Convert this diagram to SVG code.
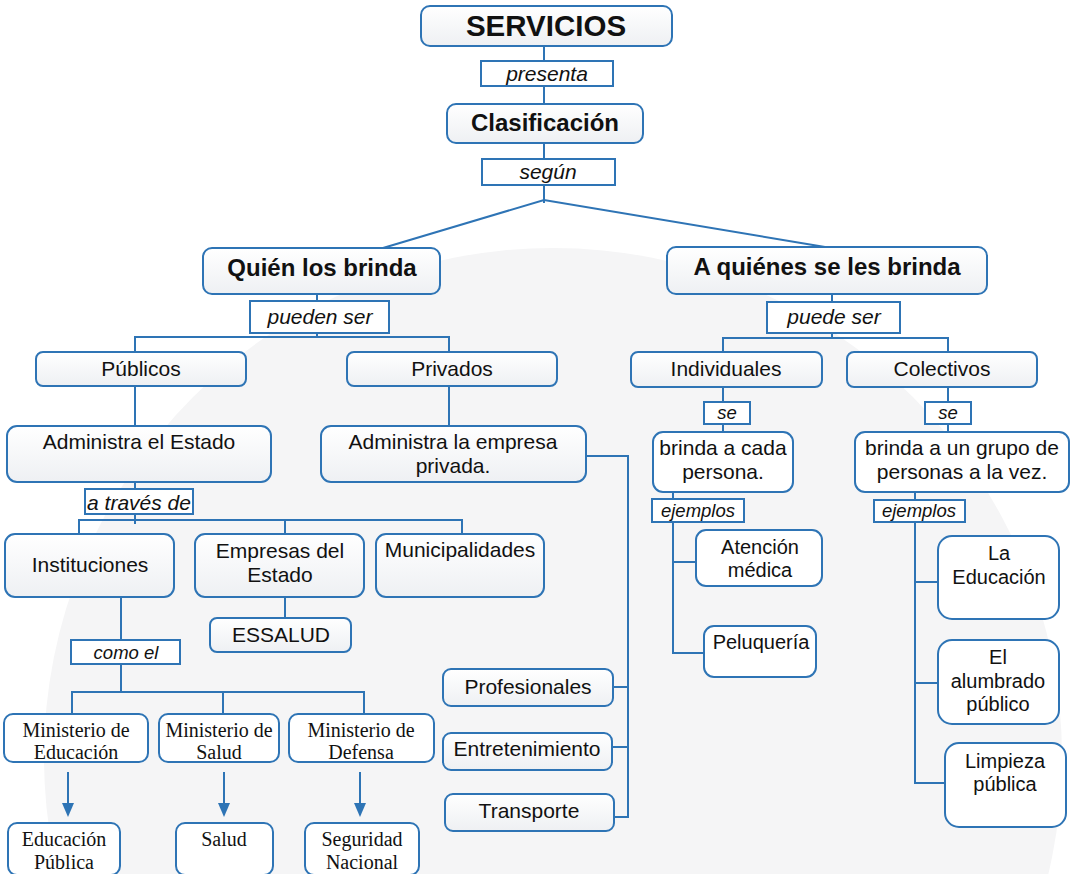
<svg xmlns="http://www.w3.org/2000/svg" width="1077" height="874" viewBox="0 0 1077 874">
<defs>
<linearGradient id="g" x1="0" y1="0" x2="0" y2="1">
<stop offset="0" stop-color="#ffffff"/>
<stop offset="1" stop-color="#eef0f3"/>
</linearGradient>
<marker id="arr" viewBox="0 0 14 12" refX="1" refY="6" markerWidth="14" markerHeight="12" markerUnits="userSpaceOnUse" orient="auto">
<path d="M0,0 L14,6 L0,12 Z" fill="#2e74b5"/>
</marker>
<style>
.n{fill:url(#g);stroke:#2e74b5;stroke-width:2}
.w{fill:#ffffff;stroke:#2e74b5;stroke-width:2}
.l{fill:#ffffff;stroke:#2e74b5;stroke-width:2}
.t{font-family:"Liberation Sans",Arial,sans-serif;font-size:21px;fill:#111;text-anchor:middle}
.m{font-family:"Liberation Sans",Arial,sans-serif;font-size:20px;fill:#111;text-anchor:middle}
.b{font-family:"Liberation Sans",Arial,sans-serif;font-weight:bold;font-size:24px;fill:#111;text-anchor:middle}
.i{font-family:"Liberation Sans",Arial,sans-serif;font-style:italic;font-size:21px;fill:#111;text-anchor:middle}
.s{font-family:"Liberation Sans",Arial,sans-serif;font-style:italic;font-size:18.5px;fill:#111;text-anchor:middle}
.r{font-family:"Liberation Serif","Times New Roman",serif;font-size:20px;fill:#111;text-anchor:middle}
.c{fill:none;stroke:#2e74b5;stroke-width:2}
</style>
</defs>
<rect width="1077" height="874" fill="#ffffff"/>
<circle cx="553" cy="757" r="509" fill="#f5f5f6"/>

<g id="connectors" class="c">
<path d="M544,46V61M544,86V104M544,143V159M544,185V203"/>
<path d="M383,248L544,200L825,247"/>
<path d="M317,294V301M317,333V337M135,352V337H449V352"/>
<path d="M135,386V426M449,386V425"/>
<path d="M135,482V489M135,514V524M79,534V520H462V534M285,520V534"/>
<path d="M121,597V640M121,664V692M72,714V692H364V714M223,692V714"/>
<path d="M285,597V618"/>
<path d="M586,456H628V817H614M613,687H628M612,747H628"/>
<path d="M832,294V302M832,333V338M723,352V338H948V352"/>
<path d="M723,387V402M723,424V432M948,387V402M948,424V432"/>
<path d="M673,492V499M673,522V653H704M673,562H696"/>
<path d="M915,492V500M915,522V783H945M915,582H938M915,683H938"/>
<path d="M68,772V804" marker-end="url(#arr)"/>
<path d="M224,772V804" marker-end="url(#arr)"/>
<path d="M360,772V804" marker-end="url(#arr)"/>
</g>

<g id="servicios"><rect class="n" x="421" y="6" width="251" height="40" rx="9"/><text class="b" x="546" y="36" style="font-size:29.5px">SERVICIOS</text></g>
<g id="presenta"><rect class="l" x="481" y="61" width="132" height="25"/><text class="i" x="547" y="81">presenta</text></g>
<g id="clasificacion"><rect class="n" x="447" y="104" width="196" height="39" rx="9"/><text class="b" x="545" y="131">Clasificación</text></g>
<g id="segun"><rect class="l" x="482" y="159" width="133" height="26"/><text class="i" x="548" y="179">según</text></g>

<g id="quien"><rect class="n" x="203" y="248" width="237" height="46" rx="9"/><text class="b" x="322" y="276">Quién los brinda</text></g>
<g id="pueden-ser"><rect class="l" x="250" y="301" width="139" height="32"/><text class="i" x="320" y="324">pueden ser</text></g>
<g id="a-quienes"><rect class="n" x="667" y="247" width="320" height="47" rx="9"/><text class="b" x="827" y="275">A quiénes se les brinda</text></g>
<g id="puede-ser"><rect class="l" x="767" y="302" width="133" height="31"/><text class="i" x="834" y="324">puede ser</text></g>

<g id="publicos"><rect class="n" x="36" y="352" width="210" height="34" rx="7"/><text class="t" x="141" y="376">Públicos</text></g>
<g id="privados"><rect class="n" x="347" y="352" width="210" height="34" rx="7"/><text class="t" x="452" y="376">Privados</text></g>
<g id="individuales"><rect class="n" x="631" y="352" width="191" height="35" rx="7"/><text class="t" x="726" y="376">Individuales</text></g>
<g id="colectivos"><rect class="n" x="847" y="352" width="190" height="35" rx="7"/><text class="t" x="942" y="376">Colectivos</text></g>

<g id="admin-estado"><rect class="n" x="7" y="426" width="264" height="56" rx="10"/><text class="t" x="139" y="449">Administra el Estado</text></g>
<g id="admin-empresa"><rect class="n" x="321" y="426" width="265" height="56" rx="10"/><text class="t" x="453" y="449">Administra la empresa</text><text class="t" x="453" y="473">privada.</text></g>
<g id="a-traves"><rect class="l" x="85" y="489" width="108" height="25"/><text class="i" x="139" y="510">a través de</text></g>

<g id="se-ind"><rect class="l" x="704" y="402" width="46" height="22"/><text class="s" x="727" y="419">se</text></g>
<g id="se-col"><rect class="l" x="925" y="402" width="46" height="22"/><text class="s" x="948" y="419">se</text></g>
<g id="brinda-cada"><rect class="w" x="653" y="432" width="140" height="60" rx="10"/><text class="t" x="723" y="455">brinda a cada</text><text class="t" x="723" y="479">persona.</text></g>
<g id="brinda-grupo"><rect class="w" x="855" y="432" width="214" height="60" rx="10"/><text class="t" x="962" y="455">brinda a un grupo de</text><text class="t" x="962" y="479">personas a la vez.</text></g>
<g id="ejemplos-ind"><rect class="l" x="652" y="499" width="92" height="23"/><text class="s" x="698" y="517">ejemplos</text></g>
<g id="ejemplos-col"><rect class="l" x="874" y="500" width="91" height="22"/><text class="s" x="919" y="517">ejemplos</text></g>

<g id="instituciones"><rect class="n" x="5" y="534" width="169" height="63" rx="10"/><text class="t" x="90" y="572">Instituciones</text></g>
<g id="empresas"><rect class="n" x="195" y="534" width="169" height="63" rx="10"/><text class="t" x="280" y="558">Empresas del</text><text class="t" x="280" y="582">Estado</text></g>
<g id="municipalidades"><rect class="n" x="376" y="534" width="168" height="63" rx="10"/><text class="t" x="460" y="557">Municipalidades</text></g>
<g id="essalud"><rect class="n" x="210" y="618" width="141" height="34" rx="7"/><text class="t" x="281" y="642">ESSALUD</text></g>
<g id="como-el"><rect class="l" x="71" y="640" width="109" height="24"/><text class="s" x="126" y="659">como el</text></g>

<g id="atencion"><rect class="w" x="696" y="530" width="126" height="56" rx="10"/><text class="m" x="760" y="554">Atención</text><text class="m" x="760" y="577">médica</text></g>
<g id="peluqueria"><rect class="w" x="704" y="626" width="112" height="51" rx="10"/><text class="m" x="761" y="649">Peluquería</text></g>
<g id="la-educacion"><rect class="w" x="938" y="536" width="121" height="83" rx="14"/><text class="m" x="999" y="560">La</text><text class="m" x="999" y="584">Educación</text></g>
<g id="alumbrado"><rect class="w" x="938" y="640" width="121" height="84" rx="14"/><text class="m" x="998" y="664">El</text><text class="m" x="998" y="688">alumbrado</text><text class="m" x="998" y="711">público</text></g>
<g id="limpieza"><rect class="w" x="945" y="743" width="121" height="84" rx="14"/><text class="m" x="1005" y="768">Limpieza</text><text class="m" x="1005" y="791">pública</text></g>

<g id="profesionales"><rect class="n" x="443" y="669" width="170" height="37" rx="8"/><text class="t" x="528" y="694">Profesionales</text></g>
<g id="entretenimiento"><rect class="n" x="443" y="733" width="169" height="37" rx="8"/><text class="t" x="527" y="756">Entretenimiento</text></g>
<g id="transporte"><rect class="n" x="445" y="794" width="169" height="37" rx="8"/><text class="t" x="529" y="818">Transporte</text></g>

<g id="min-educacion"><rect class="w" x="4" y="714" width="144" height="48" rx="9"/><text class="r" x="76" y="737">Ministerio de</text><text class="r" x="76" y="759">Educación</text></g>
<g id="min-salud"><rect class="w" x="159" y="714" width="120" height="48" rx="9"/><text class="r" x="219" y="737">Ministerio de</text><text class="r" x="219" y="759">Salud</text></g>
<g id="min-defensa"><rect class="w" x="289" y="714" width="145" height="48" rx="9"/><text class="r" x="361" y="737">Ministerio de</text><text class="r" x="361" y="759">Defensa</text></g>
<g id="educacion-publica"><rect class="w" x="8" y="823" width="112" height="52" rx="9"/><text class="r" x="64" y="846">Educación</text><text class="r" x="64" y="869">Pública</text></g>
<g id="salud"><rect class="w" x="176" y="823" width="97" height="52" rx="9"/><text class="r" x="224" y="846">Salud</text></g>
<g id="seguridad"><rect class="w" x="305" y="823" width="114" height="52" rx="9"/><text class="r" x="362" y="846">Seguridad</text><text class="r" x="362" y="869">Nacional</text></g>
</svg>
